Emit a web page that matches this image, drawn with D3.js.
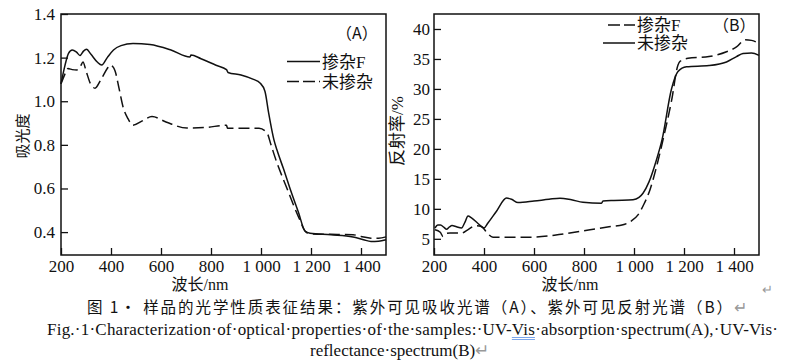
<!DOCTYPE html>
<html>
<head>
<meta charset="utf-8">
<script src="https://cdn.jsdelivr.net/npm/d3@7"></script>
<style>
  body { margin: 0; background: #fff; }
  svg { display: block; }
  text { font-family: "Liberation Serif", "Noto Sans CJK SC", serif; fill: #111; }
  .cjk { font-family: "Noto Sans CJK SC", "Liberation Serif", serif; }
  .num { font-family: "Liberation Serif", "Times New Roman", serif; }
</style>
</head>
<body>
<svg id="chart" width="798" height="363"></svg>
<script>
// wavelength ticks shared by both panels
const xTicks = [200, 400, 600, 800, 1000, 1200, 1400];
const absTicks = [0.4, 0.6, 0.8, 1.0, 1.2, 1.4];
const refTicks = [5, 10, 15, 20, 25, 30, 35, 40];

// (A) absorbance, F-doped (solid)
const absDoped = [
  [200,1.08],[215,1.16],[230,1.22],[245,1.235],[262,1.225],[276,1.21],[290,1.23],[302,1.238],
  [320,1.215],[345,1.18],[363,1.166],[385,1.2],[410,1.235],[440,1.255],[488,1.265],[556,1.26],
  [640,1.235],[716,1.203],[720,1.212],[760,1.195],[820,1.165],[862,1.145],[868,1.132],[920,1.12],
  [970,1.1],[996,1.084],[1016,1.045],[1030,0.95],[1052,0.822],[1064,0.776],[1090,0.69],[1116,0.6],
  [1150,0.49],[1176,0.405],[1196,0.395],[1280,0.388],[1368,0.378],[1410,0.365],[1440,0.357],
  [1470,0.358],[1500,0.365]
];
// (A) absorbance, undoped (dashed)
const absUndoped = [
  [200,1.08],[214,1.12],[228,1.15],[245,1.145],[263,1.143],[278,1.16],[288,1.18],[300,1.14],
  [318,1.08],[336,1.06],[360,1.1],[385,1.15],[396,1.166],[406,1.16],[416,1.14],[432,1.06],
  [448,0.975],[468,0.92],[488,0.89],[525,0.91],[564,0.93],[620,0.905],[704,0.877],[780,0.88],
  [862,0.89],[866,0.876],[920,0.876],[992,0.876],[1024,0.855],[1040,0.8],[1060,0.73],[1104,0.6],
  [1150,0.47],[1180,0.4],[1200,0.392],[1280,0.39],[1368,0.388],[1400,0.38],[1440,0.372],
  [1470,0.372],[1500,0.378]
];
// (B) reflectance %, F-doped (dashed)
const refDoped = [
  [204,6.5],[225,6.1],[236,5.4],[250,5.9],[264,5.95],[310,5.95],[335,6.5],[364,7.17],[390,7.05],
  [412,6.0],[436,5.28],[500,5.25],[596,5.28],[700,5.7],[824,6.5],[900,7.0],[956,7.33],[990,8.0],
  [1016,9.0],[1040,10.8],[1064,13.2],[1090,17],[1116,21.5],[1150,28],[1176,34.0],[1184,34.6],
  [1216,35.1],[1300,35.4],[1370,36.2],[1410,37.0],[1444,38.2],[1470,38.1],[1500,37.6]
];
// (B) reflectance %, undoped (solid)
const refUndoped = [
  [204,6.8],[215,7.3],[226,7.3],[240,6.9],[250,6.6],[262,7.0],[272,7.2],[290,7.0],[310,6.8],
  [324,7.8],[336,8.8],[350,8.5],[375,7.6],[400,6.8],[415,7.6],[450,9.6],[490,11.8],[510,11.6],
  [536,11.05],[600,11.3],[660,11.6],[704,11.78],[750,11.5],[796,11.1],[870,10.95],[876,11.3],
  [920,11.4],[996,11.5],[1020,11.9],[1036,12.6],[1060,14.5],[1090,18.2],[1112,21.5],[1150,30],
  [1176,32.9],[1210,33.7],[1300,33.9],[1370,34.5],[1410,35.4],[1436,35.9],[1470,36],[1500,35.6]
];

const captionZh = '图 1· 样品的光学性质表征结果：紫外可见吸收光谱（A）、紫外可见反射光谱（B）';
const captionEn1a = 'Fig.·1·Characterization·of·optical·properties·of·the·samples:·UV-';
const captionEn1b = 'Vis';
const captionEn1c = '·absorption·spectrum(A),·UV-Vis·';
const captionEn2 = 'reflectance·spectrum(B)';

const svg = d3.select('#chart');
svg.append('rect').attr('width', 798).attr('height', 363).attr('fill', '#fff');

const fmtX = d => d >= 1000 ? d3.format(',')(d).replace(',', ' ') : d;

function panel(opts) {
  const x = d3.scaleLinear().domain([200, 1500]).range([opts.left, opts.left + 325]);
  const y = d3.scaleLinear().domain(opts.yDomain).range([255, 14]);
  const g = svg.append('g');

  // axes (ticks point inward)
  g.append('g')
    .attr('transform', 'translate(0,255)')
    .call(d3.axisBottom(x).tickValues(xTicks).tickFormat(fmtX).tickSizeInner(-7).tickSizeOuter(0).tickPadding(5))
    .call(a => a.select('.domain').remove())
    .call(a => a.selectAll('line').attr('stroke', '#111').attr('stroke-width', 1.3))
    .call(a => a.selectAll('text').attr('class', 'num').style('font-size', '17px'));

  g.append('g')
    .attr('transform', `translate(${opts.left},0)`)
    .call(d3.axisLeft(y).tickValues(opts.yTicks).tickFormat(opts.yFmt).tickSizeInner(-7).tickSizeOuter(0).tickPadding(opts.yPad))
    .call(a => a.select('.domain').remove())
    .call(a => a.selectAll('line').attr('stroke', '#111').attr('stroke-width', 1.3))
    .call(a => a.selectAll('text').attr('class', 'num').style('font-size', '17px'));

  // frame
  g.append('rect')
    .attr('x', opts.left).attr('y', 14).attr('width', 325).attr('height', 241)
    .attr('fill', 'none').attr('stroke', '#111').attr('stroke-width', 1.5);

  const line = d3.line().x(d => x(d[0])).y(d => y(d[1])).curve(d3.curveMonotoneX);

  opts.series.forEach(s => {
    g.append('path')
      .datum(s.data)
      .attr('d', line)
      .attr('fill', 'none')
      .attr('stroke', '#111')
      .attr('stroke-width', 1.5)
      .attr('stroke-dasharray', s.dashed ? '11,5' : null);
  });

  // legend
  opts.legend.forEach(l => {
    g.append('line')
      .attr('x1', l.x1).attr('x2', l.x2).attr('y1', l.y).attr('y2', l.y)
      .attr('stroke', '#111').attr('stroke-width', 1.5)
      .attr('stroke-dasharray', l.dashed ? '12,4' : null);
    g.append('text')
      .attr('x', l.x2 + 2).attr('y', l.y).attr('dy', '0.36em')
      .attr('font-size', 17).text(l.label);
  });

  g.append('text')
    .attr('class', 'cjk')
    .attr('x', opts.tag.x).attr('y', opts.tag.y).attr('dy', '0.36em')
    .attr('font-size', 16).text(opts.tag.text);

  // axis titles
  g.append('text')
    .attr('x', opts.xTitleX).attr('y', 284).attr('dy', '0.36em')
    .attr('text-anchor', 'middle').attr('font-size', 16).text('波长/nm');

  g.append('text')
    .attr('transform', `translate(${opts.yTitle.x},${opts.yTitle.y}) rotate(-90)`)
    .attr('dy', '0.36em').attr('text-anchor', 'middle')
    .attr('font-size', opts.yTitle.size).text(opts.yTitle.text);
}

panel({
  left: 61,
  yDomain: [0.295, 1.4],
  yTicks: absTicks,
  yFmt: d3.format('.1f'),
  yPad: 6,
  series: [{ data: absDoped, dashed: false }, { data: absUndoped, dashed: true }],
  legend: [
    { x1: 287, x2: 320, y: 61.5, dashed: false, label: '掺杂F' },
    { x1: 287, x2: 320, y: 81.5, dashed: true, label: '未掺杂' }
  ],
  tag: { x: 336, y: 33, text: '（A）' },
  xTitleX: 200,
  yTitle: { x: 23, y: 136, size: 15, text: '吸光度' }
});

panel({
  left: 434,
  yDomain: [2.3, 42.5],
  yTicks: refTicks,
  yFmt: d3.format('d'),
  yPad: 4,
  series: [{ data: refDoped, dashed: true }, { data: refUndoped, dashed: false }],
  legend: [
    { x1: 608, x2: 635, y: 25, dashed: true, label: '掺杂F' },
    { x1: 603, x2: 635, y: 43, dashed: false, label: '未掺杂' }
  ],
  tag: { x: 713, y: 25, text: '（B）' },
  xTitleX: 570,
  yTitle: { x: 397, y: 131, size: 17, text: '反射率/%' }
});

// paragraph mark after the second x title
svg.append('text').attr('x', 762).attr('y', 289).attr('dy', '0.36em')
  .attr('font-size', 13).style('fill', '#999').text('↵');

// captions
const c1 = svg.append('text').attr('class', 'cjk').attr('x', 87).attr('y', 307).attr('dy', '0.36em')
  .attr('font-size', 15.5).attr('textLength', 660).attr('lengthAdjust', 'spacing');
c1.append('tspan').text(captionZh);
c1.append('tspan').style('fill', '#999').text('↵');

const c2 = svg.append('text').attr('x', 47).attr('y', 329).attr('dy', '0.36em')
  .attr('font-size', 17).attr('textLength', 731).attr('lengthAdjust', 'spacing');
c2.append('tspan').text(captionEn1a);
const vis = c2.append('tspan').text(captionEn1b);
c2.append('tspan').text(captionEn1c);

const c3 = svg.append('text').attr('x', 310).attr('y', 350).attr('dy', '0.36em')
  .attr('font-size', 17);
c3.append('tspan').text(captionEn2);
c3.append('tspan').style('fill', '#999').text('↵');

// spell-check underline under "Vis"
const vb = vis.node().getBBox();
[0, 2].forEach(off => {
  svg.append('line')
    .attr('x1', vb.x).attr('x2', vb.x + vb.width)
    .attr('y1', 337.5 + off).attr('y2', 337.5 + off)
    .attr('stroke', '#5b8fe6').attr('stroke-width', 0.8);
});
</script>
</body>
</html>
